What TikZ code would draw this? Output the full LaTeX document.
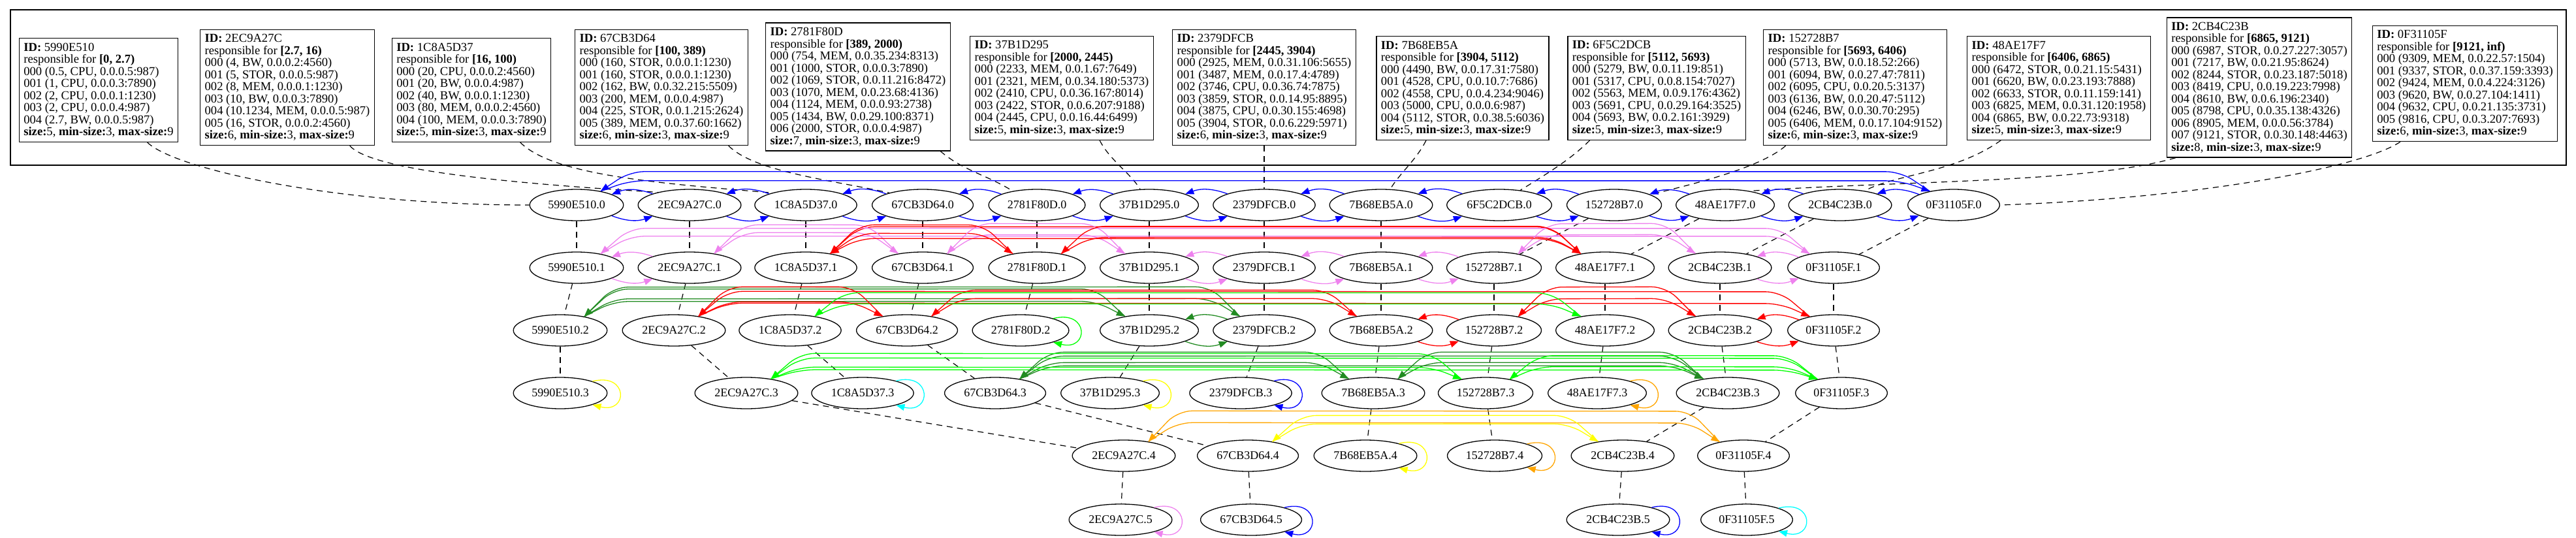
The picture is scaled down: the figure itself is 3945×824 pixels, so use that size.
\documentclass[tikz,border=0pt]{standalone}
\usepackage{fontspec}
\setmainfont{Liberation Serif}
\usetikzlibrary{positioning,arrows.meta,calc,shapes.geometric}
\definecolor{gvBlue}{RGB}{0,0,255}
\definecolor{gvViolet}{RGB}{238,130,238}
\definecolor{gvRed}{RGB}{255,0,0}
\definecolor{gvForest}{RGB}{34,139,34}
\definecolor{gvLime}{RGB}{0,255,0}
\definecolor{gvYellow}{RGB}{255,255,0}
\definecolor{gvCyan}{RGB}{0,255,255}
\definecolor{gvOrange}{RGB}{255,165,0}
\newcommand{\peerhead}[2]{\textbf{ID:} #1\\responsible for \textbf{#2}}
\newcommand{\peersize}[1]{\textbf{size:}#1, \textbf{min-size:}3, \textbf{max-size:}9}
\tikzset{
  ptr/.style={-{Triangle[length=13pt,width=10pt]},line width=1.3pt},
  arch/.style={rounded corners=22pt},
  tie/.style={line width=1.2pt,dash pattern=on 9pt off 7pt},
  peer/.style={ellipse,draw,line width=1.3pt,minimum height=48pt,
    inner xsep=7pt,inner ysep=0pt,font=\fontsize{18}{18}\selectfont},
  infobox/.style={draw,line width=1.3pt,align=left,inner xsep=7pt,
    inner ysep=7pt,font=\fontsize{18.6}{18.5}\selectfont},
  cluster/.style={draw,line width=1.5pt,minimum width=3914pt,minimum height=238pt}
}

\begin{document}
\begin{tikzpicture}[x=1pt,y=1pt]
  \useasboundingbox (0,0) rectangle (3945,-824);
  \node[cluster] (peers) at (1973,-134) {};

  % routing tables
  \node[infobox] (b5990E510) at (151,-138) {\peerhead{5990E510}{[0, 2.7)}\\
    000 (0.5, CPU, 0.0.0.5:987)\\001 (1, CPU, 0.0.0.3:7890)\\002 (2, CPU, 0.0.0.1:1230)\\
    003 (2, CPU, 0.0.0.4:987)\\004 (2.7, BW, 0.0.0.5:987)\\\peersize{5}};
  \node[infobox] (b2EC9A27C) at (440,-134) {\peerhead{2EC9A27C}{[2.7, 16)}\\
    000 (4, BW, 0.0.0.2:4560)\\001 (5, STOR, 0.0.0.5:987)\\002 (8, MEM, 0.0.0.1:1230)\\
    003 (10, BW, 0.0.0.3:7890)\\004 (10.1234, MEM, 0.0.0.5:987)\\005 (16, STOR, 0.0.0.2:4560)\\\peersize{6}};
  \node[infobox] (b1C8A5D37) at (722,-138) {\peerhead{1C8A5D37}{[16, 100)}\\
    000 (20, CPU, 0.0.0.2:4560)\\001 (20, BW, 0.0.0.4:987)\\002 (40, BW, 0.0.0.1:1230)\\
    003 (80, MEM, 0.0.0.2:4560)\\004 (100, MEM, 0.0.0.3:7890)\\\peersize{5}};
  \node[infobox] (b67CB3D64) at (1013,-134) {\peerhead{67CB3D64}{[100, 389)}\\
    000 (160, STOR, 0.0.0.1:1230)\\001 (160, STOR, 0.0.0.1:1230)\\002 (162, BW, 0.0.32.215:5509)\\
    003 (200, MEM, 0.0.0.4:987)\\004 (225, STOR, 0.0.1.215:2624)\\005 (389, MEM, 0.0.37.60:1662)\\\peersize{6}};
  \node[infobox] (b2781F80D) at (1314,-133) {\peerhead{2781F80D}{[389, 2000)}\\
    000 (754, MEM, 0.0.35.234:8313)\\001 (1000, STOR, 0.0.0.3:7890)\\002 (1069, STOR, 0.0.11.216:8472)\\
    003 (1070, MEM, 0.0.23.68:4136)\\004 (1124, MEM, 0.0.0.93:2738)\\005 (1434, BW, 0.0.29.100:8371)\\
    006 (2000, STOR, 0.0.0.4:987)\\\peersize{7}};
  \node[infobox] (b37B1D295) at (1626,-135) {\peerhead{37B1D295}{[2000, 2445)}\\
    000 (2233, MEM, 0.0.1.67:7649)\\001 (2321, MEM, 0.0.34.180:5373)\\002 (2410, CPU, 0.0.36.167:8014)\\
    003 (2422, STOR, 0.0.6.207:9188)\\004 (2445, CPU, 0.0.16.44:6499)\\\peersize{5}};
  \node[infobox] (b2379DFCB) at (1936,-134) {\peerhead{2379DFCB}{[2445, 3904)}\\
    000 (2925, MEM, 0.0.31.106:5655)\\001 (3487, MEM, 0.0.17.4:4789)\\002 (3746, CPU, 0.0.36.74:7875)\\
    003 (3859, STOR, 0.0.14.95:8895)\\004 (3875, CPU, 0.0.30.155:4698)\\005 (3904, STOR, 0.0.6.229:5971)\\\peersize{6}};
  \node[infobox] (b7B68EB5A) at (2240,-135) {\peerhead{7B68EB5A}{[3904, 5112)}\\
    000 (4490, BW, 0.0.17.31:7580)\\001 (4528, CPU, 0.0.10.7:7686)\\002 (4558, CPU, 0.0.4.234:9046)\\
    003 (5000, CPU, 0.0.0.6:987)\\004 (5112, STOR, 0.0.38.5:6036)\\\peersize{5}};
  \node[infobox] (b6F5C2DCB) at (2537,-135) {\peerhead{6F5C2DCB}{[5112, 5693)}\\
    000 (5279, BW, 0.0.11.19:851)\\001 (5317, CPU, 0.0.8.154:7027)\\002 (5563, MEM, 0.0.9.176:4362)\\
    003 (5691, CPU, 0.0.29.164:3525)\\004 (5693, BW, 0.0.2.161:3929)\\\peersize{5}};
  \node[infobox] (b152728B7) at (2841,-134) {\peerhead{152728B7}{[5693, 6406)}\\
    000 (5713, BW, 0.0.18.52:266)\\001 (6094, BW, 0.0.27.47:7811)\\002 (6095, CPU, 0.0.20.5:3137)\\
    003 (6136, BW, 0.0.20.47:5112)\\004 (6246, BW, 0.0.30.70:295)\\005 (6406, MEM, 0.0.17.104:9152)\\\peersize{6}};
  \node[infobox] (b48AE17F7) at (3153,-135) {\peerhead{48AE17F7}{[6406, 6865)}\\
    000 (6472, STOR, 0.0.21.15:5431)\\001 (6620, BW, 0.0.23.193:7888)\\002 (6633, STOR, 0.0.11.159:141)\\
    003 (6825, MEM, 0.0.31.120:1958)\\004 (6865, BW, 0.0.22.73:9318)\\\peersize{5}};
  \node[infobox] (b2CB4C23B) at (3460,-134) {\peerhead{2CB4C23B}{[6865, 9121)}\\
    000 (6987, STOR, 0.0.27.227:3057)\\001 (7217, BW, 0.0.21.95:8624)\\002 (8244, STOR, 0.0.23.187:5018)\\
    003 (8419, CPU, 0.0.19.223:7998)\\004 (8610, BW, 0.0.6.196:2340)\\005 (8798, CPU, 0.0.35.138:4326)\\
    006 (8905, MEM, 0.0.0.56:3784)\\007 (9121, STOR, 0.0.30.148:4463)\\\peersize{8}};
  \node[infobox] (b0F31105F) at (3775,-128) {\peerhead{0F31105F}{[9121, inf)}\\
    000 (9309, MEM, 0.0.22.57:1504)\\001 (9337, STOR, 0.0.37.159:3393)\\002 (9424, MEM, 0.0.4.224:3126)\\
    003 (9620, BW, 0.0.27.104:1411)\\004 (9632, CPU, 0.0.21.135:3731)\\005 (9816, CPU, 0.0.3.207:7693)\\\peersize{6}};

  % skip graph levels
  \foreach \id/\x in {5990E510/883,2EC9A27C/1056,1C8A5D37/1234,67CB3D64/1413,2781F80D/1588,
      37B1D295/1760,2379DFCB/1936,7B68EB5A/2115,6F5C2DCB/2296,152728B7/2472,48AE17F7/2642,
      2CB4C23B/2818,0F31105F/2992}
    \node[peer] (\id-0) at (\x,-314) {\id.0};
  \foreach \id/\x in {5990E510/883,2EC9A27C/1056,1C8A5D37/1234,67CB3D64/1413,2781F80D/1588,
      37B1D295/1760,2379DFCB/1936,7B68EB5A/2115,152728B7/2288,48AE17F7/2458,
      2CB4C23B/2634,0F31105F/2808}
    \node[peer] (\id-1) at (\x,-410) {\id.1};
  \foreach \id/\x in {5990E510/858,2EC9A27C/1032,1C8A5D37/1210,67CB3D64/1389,2781F80D/1563,
      37B1D295/1760,2379DFCB/1936,7B68EB5A/2115,152728B7/2288,48AE17F7/2458,
      2CB4C23B/2634,0F31105F/2808}
    \node[peer] (\id-2) at (\x,-506) {\id.2};
  \foreach \id/\x in {5990E510/858,2EC9A27C/1143,1C8A5D37/1321,67CB3D64/1524,
      37B1D295/1700,2379DFCB/1900,7B68EB5A/2103,152728B7/2275,48AE17F7/2446,
      2CB4C23B/2646,0F31105F/2820}
    \node[peer] (\id-3) at (\x,-602) {\id.3};
  \foreach \id/\x in {2EC9A27C/1721,67CB3D64/1911,7B68EB5A/2091,152728B7/2289,
      2CB4C23B/2485,0F31105F/2670}
    \node[peer] (\id-4) at (\x,-698) {\id.4};
  \foreach \id/\x in {2EC9A27C/1716,67CB3D64/1916,2CB4C23B/2478,0F31105F/2675}
    \node[peer] (\id-5) at (\x,-796) {\id.5};

  % tables to level 0
  \draw[tie] (b5990E510.-47) .. controls +(40,-40) and +(-300,0) .. (5990E510-0.west);
  \draw[tie] (b2EC9A27C.-43) .. controls +(35,-40) and +(-200,12) .. (2EC9A27C-0.158);
  \draw[tie] (b1C8A5D37.-47) .. controls +(50,-50) and +(-180,15) .. (1C8A5D37-0.160);
  \draw[tie] (b67CB3D64.-41) .. controls +(40,-40) and +(-90,20) .. (67CB3D64-0.160);
  \draw[tie] (b2781F80D.-38) .. controls +(35,-30) and +(-40,25) .. (2781F80D-0.150);
  \draw[tie] (b37B1D295.-54) .. controls +(15,-30) and +(-15,25) .. (37B1D295-0.120);
  \draw[tie] (b2379DFCB) -- (2379DFCB-0);
  \draw[tie] (b7B68EB5A.-125) .. controls +(-15,-30) and +(15,25) .. (7B68EB5A-0.60);
  \draw[tie] (b6F5C2DCB.-142) .. controls +(-30,-30) and +(40,25) .. (6F5C2DCB-0.35);
  \draw[tie] (b152728B7.-140) .. controls +(-40,-35) and +(60,15) .. (152728B7-0.16);
  \draw[tie] (b48AE17F7.-138) .. controls +(-70,-50) and +(45,25) .. (2CB4C23B-0.30);
  \draw[tie] (b2CB4C23B.-140) .. controls +(-130,-38) and +(244,16) .. (48AE17F7-0.30);
  \draw[tie] (b0F31105F.-138) .. controls +(-60,-40) and +(300,10) .. (0F31105F-0.east);

  % towers
  \foreach \id/\top in {5990E510/2,2EC9A27C/4,1C8A5D37/2,67CB3D64/4,2781F80D/1,37B1D295/2,
      2379DFCB/2,7B68EB5A/3,152728B7/3,48AE17F7/2,2CB4C23B/4,0F31105F/4}
    \foreach \l in {0,...,\top}{
      \pgfmathtruncatemacro\n{\l+1}
      \draw[tie] (\id-\l) -- (\id-\n);
    }

  % neighbours side by side
  \foreach \a/\b/\l/\col in {5990E510/2EC9A27C/0/gvBlue,2EC9A27C/1C8A5D37/0/gvBlue,
      1C8A5D37/67CB3D64/0/gvBlue,67CB3D64/2781F80D/0/gvBlue,2781F80D/37B1D295/0/gvBlue,
      37B1D295/2379DFCB/0/gvBlue,2379DFCB/7B68EB5A/0/gvBlue,7B68EB5A/6F5C2DCB/0/gvBlue,
      6F5C2DCB/152728B7/0/gvBlue,152728B7/48AE17F7/0/gvBlue,48AE17F7/2CB4C23B/0/gvBlue,
      2CB4C23B/0F31105F/0/gvBlue,
      5990E510/2EC9A27C/1/gvViolet,37B1D295/2379DFCB/1/gvViolet,2379DFCB/7B68EB5A/1/gvViolet,
      7B68EB5A/152728B7/1/gvViolet,2CB4C23B/0F31105F/1/gvViolet,
      37B1D295/2379DFCB/2/gvForest,7B68EB5A/152728B7/2/gvRed,2CB4C23B/0F31105F/2/gvRed}{
    \draw[ptr,color=\col] (\a-\l.-17) to[bend right=20] (\b-\l.-163);
    \draw[ptr,color=\col] (\b-\l.163) to[bend right=20] (\a-\l.17);
  }

  % long links, left to right
  \foreach \a/\b/\l/\h/\col in {5990E510/0F31105F/0/16/gvBlue,
      5990E510/0F31105F/1/27/gvViolet,2EC9A27C/67CB3D64/1/32/gvViolet,
      67CB3D64/37B1D295/1/29/gvViolet,152728B7/2CB4C23B/1/29/gvViolet,
      1C8A5D37/2781F80D/1/31/gvRed,2781F80D/48AE17F7/1/25/gvRed,1C8A5D37/48AE17F7/1/41/gvRed,
      5990E510/37B1D295/2/23/gvForest,5990E510/2379DFCB/2/27/gvForest,
      2EC9A27C/67CB3D64/2/22/gvRed,67CB3D64/7B68EB5A/2/27/gvRed,152728B7/2CB4C23B/2/27/gvRed,
      2EC9A27C/0F31105F/2/20/gvRed,1C8A5D37/48AE17F7/2/19/gvLime,
      67CB3D64/7B68EB5A/3/25/gvForest,7B68EB5A/2CB4C23B/3/25/gvForest,
      67CB3D64/2CB4C23B/3/20/gvForest,2EC9A27C/152728B7/3/18/gvLime,
      152728B7/0F31105F/3/19/gvLime,2EC9A27C/0F31105F/3/14/gvLime,
      2EC9A27C/0F31105F/4/29/gvOrange,67CB3D64/2CB4C23B/4/27/gvYellow}
    \draw[ptr,arch,color=\col] (\a-\l.30) -- ++(45,\h) -- ($(\b-\l.150)+(-45,\h)$) -- (\b-\l.150);

  % long links, right to left
  \foreach \a/\b/\l/\h/\col in {0F31105F/5990E510/0/30/gvBlue,
      0F31105F/5990E510/1/39/gvViolet,67CB3D64/2EC9A27C/1/44/gvViolet,
      37B1D295/67CB3D64/1/46/gvViolet,2CB4C23B/152728B7/1/46/gvViolet,
      2781F80D/1C8A5D37/1/44/gvRed,48AE17F7/2781F80D/1/42/gvRed,48AE17F7/1C8A5D37/1/23/gvRed,
      37B1D295/5990E510/2/42/gvForest,2379DFCB/5990E510/2/45/gvForest,
      67CB3D64/2EC9A27C/2/45/gvRed,7B68EB5A/67CB3D64/2/40/gvRed,2CB4C23B/152728B7/2/45/gvRed,
      0F31105F/2EC9A27C/2/38/gvRed,48AE17F7/1C8A5D37/2/36/gvLime,
      7B68EB5A/67CB3D64/3/41/gvForest,2CB4C23B/7B68EB5A/3/41/gvForest,
      2CB4C23B/67CB3D64/3/35/gvForest,152728B7/2EC9A27C/3/39/gvLime,
      0F31105F/152728B7/3/36/gvLime,0F31105F/2EC9A27C/3/32/gvLime,
      0F31105F/2EC9A27C/4/47/gvOrange,2CB4C23B/67CB3D64/4/40/gvYellow}
    \draw[ptr,arch,color=\col] (\a-\l.150) -- ++(-45,\h) -- ($(\b-\l.30)+(45,\h)$) -- (\b-\l.30);

  % lonely peers
  \foreach \n/\col in {2781F80D-2/gvLime,5990E510-3/gvYellow,1C8A5D37-3/gvCyan,
      37B1D295-3/gvYellow,2379DFCB-3/gvBlue,48AE17F7-3/gvOrange,7B68EB5A-4/gvYellow,
      152728B7-4/gvOrange,2EC9A27C-5/gvViolet,67CB3D64-5/gvBlue,2CB4C23B-5/gvBlue,
      0F31105F-5/gvCyan}
    \draw[ptr,color=\col] (\n.20) .. controls +(55,14) and +(55,-14) .. (\n.-20);
\end{tikzpicture}
\end{document}
